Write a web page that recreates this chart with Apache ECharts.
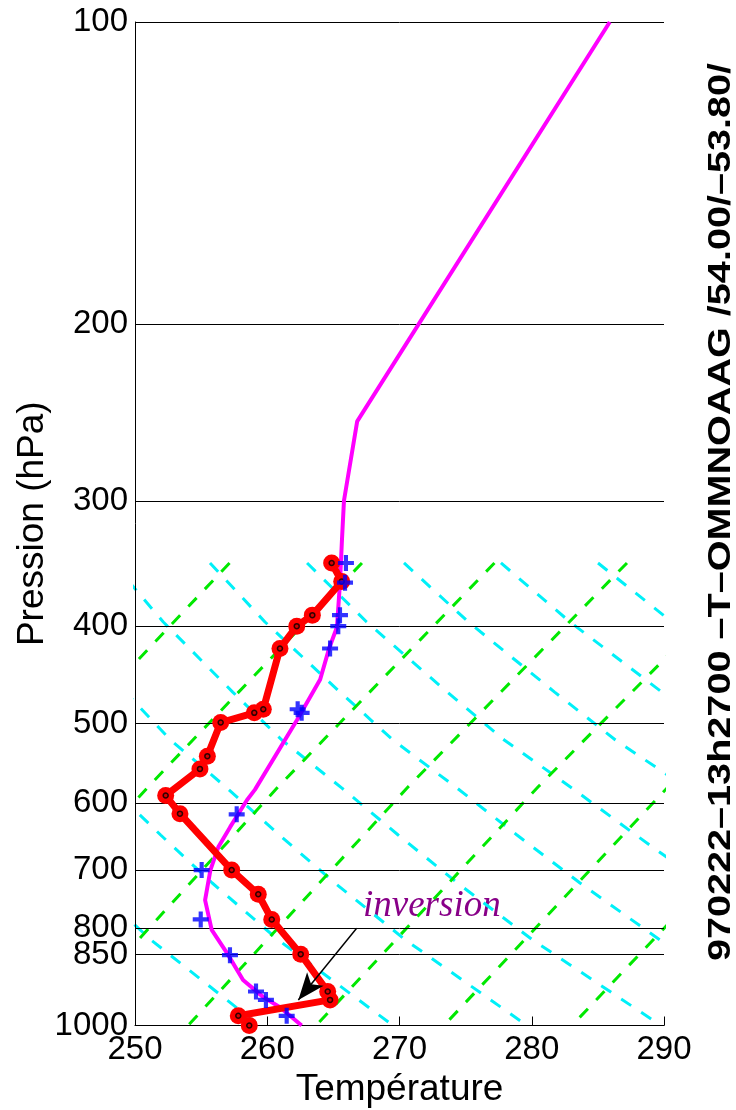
<!DOCTYPE html>
<html><head><meta charset="utf-8">
<script src="https://cdn.jsdelivr.net/npm/echarts@6/dist/echarts.min.js"></script>
<style>html,body{margin:0;padding:0;background:#fff}#c{width:736px;height:1110px}</style>
</head><body><div id="c"></div>
<script>
// Axis ticks
const tempTicks = [250, 260, 270, 280, 290];
const pressureTicks = [100, 200, 300, 400, 500, 600, 700, 800, 850, 1000];

// Observed temperature profile (red)
const obsPressure = [346, 361, 390, 400, 421, 484, 488, 499, 539, 555, 590, 615, 700, 740, 784, 849, 925, 943, 978, 1000];
const obsTemp     = [264.87, 265.63, 263.41, 262.23, 260.96, 259.70, 259.02, 256.48, 255.47, 254.91, 252.32, 253.40, 257.31, 259.32, 260.34, 262.53, 264.57, 264.75, 257.81, 258.64];

// Second profile (blue crosses)
const crossPressure = [346, 362, 390, 400, 421, 484, 488, 616, 700, 784, 851, 925, 943, 978];
const crossTemp     = [265.95, 265.88, 265.5, 265.37, 264.75, 262.3, 262.6, 257.69, 255.04, 254.97, 257.18, 259.15, 259.9, 261.47];

// Reference profile (magenta)
const refPressure = [100, 250, 300, 328, 362, 401, 420, 452, 496, 582, 596, 634, 664, 700, 750, 803, 847, 901, 937, 959, 1000];
const refTemp     = [285.9, 266.8, 265.8, 265.65, 265.5, 265.27, 264.7, 264.0, 262.25, 259.07, 258.47, 257.2, 256.3, 255.7, 255.3, 255.8, 256.96, 258.17, 259.7, 260.96, 262.6];

// Background diagonal lines (cyan, descending to the right)
const cyanLevels = [346, 396.2, 465.3, 519.4, 580, 645.9, 721.1, 821.9, 1000];
const cyanLines = [
  [226.33, 229.07, 233.05, 235.88, 239.57, 242.95, 246.57, 251.22, 259.38],
  [233.67, 236.76, 241.16, 244.28, 248.26, 251.94, 255.84, 260.84, 269.51],
  [241.00, 244.45, 249.27, 252.69, 256.96, 260.92, 265.11, 270.46, 279.64],
  [248.34, 252.14, 257.39, 261.10, 265.65, 269.90, 274.38, 280.08, 289.77],
  [255.67, 259.83, 265.50, 269.51, 274.35, 278.88, 283.65, 289.70, 299.91],
  [263.01, 267.52, 273.61, 277.92, 283.04, 287.87, 292.92, 299.32, 310.04],
  [270.34, 275.21, 281.73, 286.33, 291.74, 296.85],
  [277.67, 282.90, 289.84, 294.73],
  [285.01, 290.59]
];

// Background diagonal lines (green, rising to the right)
const greenLevels = [346, 578.6, 1000];
const greenLines = [
  [257.15, 241.15, 224.97],
  [267.16, 250.98, 234.65],
  [277.18, 260.81, 244.33],
  [287.20, 270.64, 254.01],
  [297.22, 280.47, 263.69],
  [307.24, 290.30, 273.36],
  [317.26, 300.13, 283.04]
];

// Annotation arrow (temperature, pressure)
const arrowFrom = [266.76, 800];
const arrowTo = [262.35, 943];

const FONT = '"Liberation Sans", Arial, sans-serif';

function pairs(ts, ps) { return ts.map((t, i) => [t, ps[i]]); }

const series = [];
cyanLines.forEach(line => {
  series.push({
    type: 'line', data: line.map((t, i) => [t, cyanLevels[i]]), symbol: 'none', silent: true,
    clip: true, z: 1, animation: false,
    lineStyle: { color: '#00f0f8', width: 3, type: [12, 12] }
  });
});
greenLines.forEach(line => {
  series.push({
    type: 'line', data: line.map((t, i) => [t, greenLevels[i]]), symbol: 'none', silent: true,
    clip: true, z: 1, animation: false,
    lineStyle: { color: '#00e800', width: 3, type: [12, 12] }
  });
});
series.push({
  type: 'line', data: pairs(refTemp, refPressure), symbol: 'none', z: 3, animation: false,
  lineStyle: { color: '#ff00ff', width: 4 }
});
series.push({
  type: 'line', data: pairs(obsTemp, obsPressure), symbol: 'circle', symbolSize: 17, showSymbol: true,
  z: 4, animation: false,
  lineStyle: { color: '#ff0000', width: 7 },
  itemStyle: { color: '#ff0000' }
});
series.push({
  type: 'scatter', data: pairs(obsTemp, obsPressure), symbol: 'circle', symbolSize: 5, z: 5, animation: false,
  itemStyle: { color: '#cc0000', borderColor: '#000', borderWidth: 1.5 }
});
series.push({
  type: 'scatter', data: pairs(crossTemp, crossPressure),
  symbol: 'path://M3.7,0 H6.3 V3.7 H10 V6.3 H6.3 V10 H3.7 V6.3 H0 V3.7 H3.7 Z', symbolSize: 16, z: 6, animation: false,
  itemStyle: { color: '#0000ff' },
  markLine: {
    silent: true, animation: false, symbol: ['none', 'arrow'], symbolSize: [0, 22],
    lineStyle: { color: '#000', width: 1.5, type: 'solid' }, label: { show: false },
    data: [[{ coord: arrowFrom }, { coord: arrowTo, symbolSize: [16, 27] }]]
  }
});

const chart = echarts.init(document.getElementById('c'), null, { renderer: 'canvas' });
chart.setOption({
  animation: false,
  backgroundColor: '#ffffff',
  grid: { left: 135, top: 22, width: 529, height: 1003.5, containLabel: false, outerBoundsMode: 'none' },
  xAxis: {
    type: 'value', min: 250, max: 290, interval: 10,
    name: 'Température', nameLocation: 'middle', nameGap: 46, nameMoveOverlap: false,
    nameTextStyle: { fontFamily: FONT, fontSize: 37, color: '#000' },
    axisLine: { show: true, lineStyle: { color: '#000', width: 1 } },
    axisTick: { show: true, inside: true, length: 9, lineStyle: { color: '#000' } },
    axisLabel: { fontFamily: FONT, fontSize: 33, color: '#000', margin: 8,
      customValues: tempTicks, formatter: v => String(v) },
    splitLine: { show: false }
  },
  yAxis: {
    type: 'log', logBase: 10, min: 100, max: 1000, inverse: true, z: 1.5,
    name: 'Pression (hPa)', nameLocation: 'middle', nameGap: 84, nameMoveOverlap: false,
    nameTextStyle: { fontFamily: FONT, fontSize: 37, color: '#000' },
    axisLine: { show: true, lineStyle: { color: '#000', width: 1 } },
    axisTick: { show: true, inside: true, length: 6, customValues: pressureTicks, lineStyle: { color: '#000' } },
    axisLabel: { fontFamily: FONT, fontSize: 33, color: '#000', margin: 7,
      customValues: pressureTicks, formatter: v => String(Math.round(v)) },
    splitLine: { show: true, lineStyle: { color: '#000', width: 1 } },
    minorTick: { show: false }, minorSplitLine: { show: false }
  },
  graphic: [
    {
      type: 'text', x: 721, y: 512, rotation: Math.PI / 2, scaleX: 1.32, scaleY: 1.05,
      style: { text: '970222–13h2700 –T–OMMNOAAG /54.00/–53.80/', font: 'bold 30px ' + FONT,
        fill: '#000', align: 'center', verticalAlign: 'middle' }
    },
    {
      type: 'text', x: 363, y: 906,
      style: { text: 'inversion', font: 'italic 37px "Liberation Serif", "Times New Roman", serif',
        fill: '#880088', align: 'left', verticalAlign: 'middle' }
    }
  ],
  series: series
});
</script></body></html>
